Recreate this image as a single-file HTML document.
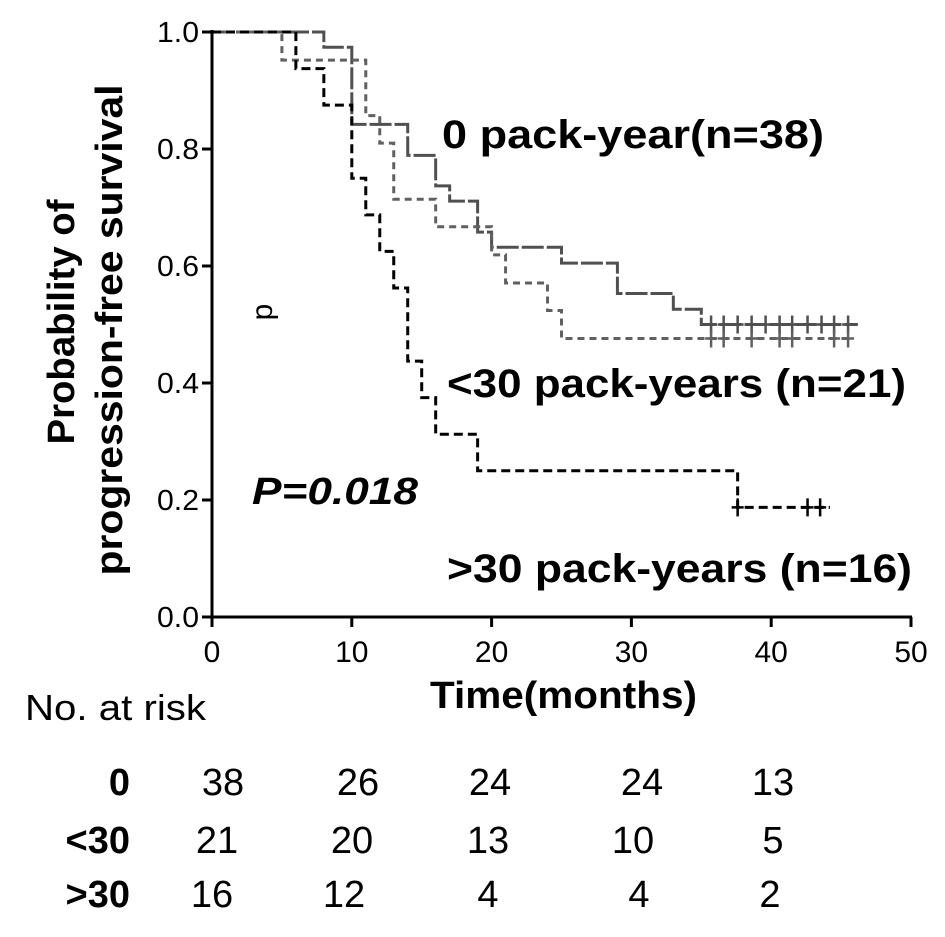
<!DOCTYPE html>
<html><head><meta charset="utf-8"><style>
html,body{margin:0;padding:0;background:#fff}
svg{display:block;font-family:"Liberation Sans",Arial,sans-serif}
</style></head><body>
<svg id="chart" width="945" height="937" viewBox="0 0 945 937" xmlns="http://www.w3.org/2000/svg">
<g id="marks"></g>
<g id="axes"></g>
<text x="0" y="0" transform="translate(74,322) rotate(-90)" text-anchor="middle" font-size="38" font-weight="bold" textLength="245" lengthAdjust="spacingAndGlyphs">Probability of</text>
<text x="0" y="0" transform="translate(122,330) rotate(-90)" text-anchor="middle" font-size="38" font-weight="bold" textLength="491" lengthAdjust="spacingAndGlyphs">progression-free survival</text>
<text x="0" y="0" transform="translate(272,312) rotate(-90)" text-anchor="middle" font-size="30">p</text>
<text x="442" y="148" font-size="40" font-weight="bold" textLength="382" lengthAdjust="spacingAndGlyphs">0 pack-year(n=38)</text>
<text x="447" y="397" font-size="40" font-weight="bold" textLength="459" lengthAdjust="spacingAndGlyphs">&lt;30 pack-years (n=21)</text>
<text x="447" y="582" font-size="40" font-weight="bold" textLength="465" lengthAdjust="spacingAndGlyphs">&gt;30 pack-years (n=16)</text>
<text x="252" y="504" font-size="38" font-weight="bold" font-style="italic" textLength="166" lengthAdjust="spacingAndGlyphs">P=0.018</text>
<text x="430" y="708" font-size="38" font-weight="bold" textLength="267" lengthAdjust="spacingAndGlyphs">Time(months)</text>
<text x="25" y="720" font-size="36" textLength="181" lengthAdjust="spacingAndGlyphs">No. at risk</text>
<g id="risk" font-size="38"></g>
</svg>
<script>
const xTicks=[0,10,20,30,40,50];
const yTicks=[0.0,0.2,0.4,0.6,0.8,1.0];
const yTickLabels=["0.0","0.2","0.4","0.6","0.8","1.0"];
const t0=[0,8,10,14,16,17,19,20,25,29,33,35,46.2];
const s0=[1,0.974,0.842,0.789,0.737,0.711,0.658,0.632,0.605,0.553,0.526,0.5,0.5];
const c0=[35.7,36.6,37.6,38.6,39.6,40.6,41.5,42.6,43.6,44.5,45.5];
const t1=[0,5,11,12,13,16,20,21,24,25,45.5];
const s1=[1,0.952,0.857,0.81,0.714,0.667,0.619,0.571,0.524,0.476,0.476];
const c1=[35.7,36.6,38.6,40.6,41.5,44.5,45.5];
const t2=[0,6,8,10,11,12,13,14,15,16,19,37.6,44.2];
const s2=[1,0.9375,0.875,0.75,0.6875,0.625,0.5625,0.4375,0.375,0.3125,0.25,0.1875,0.1875];
const c2=[37.6,42.6,43.5];
const riskRows=["0","<30",">30"];
const risk0=[38,26,24,24,13];
const risk1=[21,20,13,10,5];
const risk2=[16,12,4,4,2];

const X=v=>212+v*13.98;
const Y=v=>617-v*585;
const NS="http://www.w3.org/2000/svg";
function mk(tag,attrs,parent){const e=document.createElementNS(NS,tag);for(const k in attrs)e.setAttribute(k,attrs[k]);parent.appendChild(e);return e;}
const axes=document.getElementById('axes'),marks=document.getElementById('marks'),risk=document.getElementById('risk');

let ax=mk('line',{x1:X(0),y1:Y(1)-2,x2:X(0),y2:Y(0)+1,stroke:'#000','stroke-width':3},axes);


ax=mk('line',{x1:X(0)-1,y1:Y(0),x2:X(50)+1,y2:Y(0),stroke:'#000','stroke-width':3},axes);


yTicks.forEach((v,i)=>{
  const l=mk('line',{x1:X(0)-10,y1:Y(v),x2:X(0),y2:Y(v),stroke:'#000','stroke-width':3},axes);
  
  
  const t=mk('text',{x:199,y:Y(v)+10,'text-anchor':'end','font-size':29,textLength:42,lengthAdjust:'spacingAndGlyphs'},axes);
  t.textContent=yTickLabels[i];
  
  
});
xTicks.forEach(v=>{
  const l=mk('line',{x1:X(v),y1:Y(0),x2:X(v),y2:Y(0)+10,stroke:'#000','stroke-width':3},axes);
  
  
  const t=mk('text',{x:X(v),y:662,'text-anchor':'middle','font-size':30},axes);
  t.textContent=String(v);
  
  
});
function curve(ts,ss,cs,color,dash,name){
  let d='M'+X(ts[0])+','+Y(ss[0]);
  for(let i=1;i<ts.length;i++){d+=' H'+X(ts[i])+' V'+Y(ss[i]);}
  const p=mk('path',{d:d,fill:'none',stroke:color,'stroke-width':3,'stroke-dasharray':dash},marks);
  
  
  const last=ss[ss.length-1];
  cs.forEach(c=>{
    let y=last;
    for(let i=0;i<ts.length;i++){if(ts[i]<=c)y=ss[i];}
    const m=mk('path',{d:'M'+X(c)+','+(Y(y)-9)+' V'+(Y(y)+9)+' M'+(X(c)-6)+','+Y(y)+' H'+(X(c)+6),stroke:color,'stroke-width':2.5,fill:'none'},marks);
    
    
  });
}
curve(t0,s0,c0,'#505050','22,3','zero-pack-year');
curve(t1,s1,c1,'#606060','7,5','lt30-pack-years');
curve(t2,s2,c2,'#000','9,5','gt30-pack-years');

const rowY=[795,853,907];
const rows=[risk0,risk1,risk2];
const colX=[[223,358,490,642,773],[217,352,488,633,773],[212,344,488,639,770]];
riskRows.forEach((lab,r)=>{
  const t=mk('text',{x:130,y:rowY[r],'text-anchor':'end','font-weight':'bold'},risk);
  t.textContent=lab;
  
  
  rows[r].forEach((v,c)=>{
    const n=mk('text',{x:colX[r][c],y:rowY[r],'text-anchor':'middle'},risk);
    n.textContent=String(v);
    
    
  });
});
</script>
</body></html>
